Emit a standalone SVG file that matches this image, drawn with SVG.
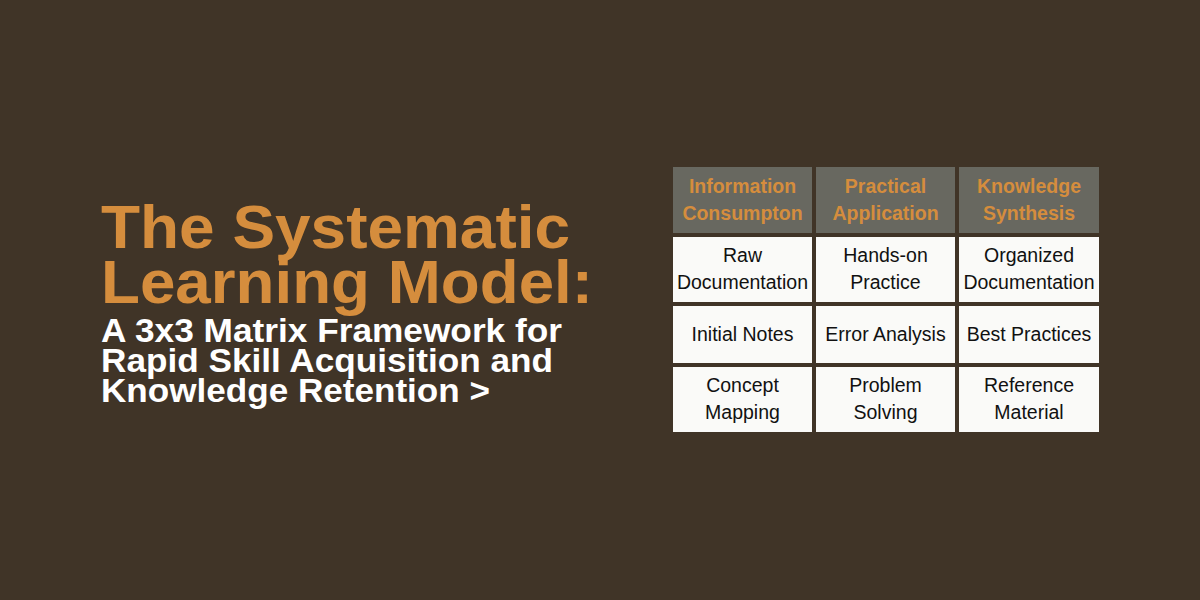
<svg xmlns="http://www.w3.org/2000/svg" width="1200" height="600" viewBox="0 0 1200 600">
<style>
.t{font-family:"Liberation Sans",Arial,sans-serif;font-weight:bold;fill:#D58D3D;font-size:62px}
.s{font-family:"Liberation Sans",Arial,sans-serif;font-weight:bold;fill:#fff;font-size:33px}
.h{fill:#686860}
.c{fill:#FAFAF8}
.ht{font-family:"Liberation Sans",Arial,sans-serif;font-weight:bold;fill:#D58D3D;font-size:19.5px;text-anchor:middle}
.ct{font-family:"Liberation Sans",Arial,sans-serif;fill:#111;font-size:19.5px;text-anchor:middle}
</style>
<rect width="1200" height="600" fill="#403427"/>
<g id="title">
<text class="t" x="101" y="248" textLength="469" lengthAdjust="spacingAndGlyphs">The Systematic</text>
<text class="t" x="101" y="303" textLength="492" lengthAdjust="spacingAndGlyphs">Learning Model:</text>
<text class="s" x="101" y="342" textLength="461" lengthAdjust="spacingAndGlyphs">A 3x3 Matrix Framework for</text>
<text class="s" x="101" y="372" textLength="452" lengthAdjust="spacingAndGlyphs">Rapid Skill Acquisition and</text>
<text class="s" x="101" y="402" textLength="389" lengthAdjust="spacingAndGlyphs">Knowledge Retention &gt;</text>
</g>
<g id="h1"><rect class="h" x="673" y="167" width="139" height="66"/><text class="ht" x="742.5" y="193">Information</text><text class="ht" x="742.5" y="220">Consumpton</text></g>
<g id="h2"><rect class="h" x="816" y="167" width="139" height="66"/><text class="ht" x="885.5" y="193">Practical</text><text class="ht" x="885.5" y="220">Application</text></g>
<g id="h3"><rect class="h" x="959" y="167" width="140" height="66"/><text class="ht" x="1029" y="193">Knowledge</text><text class="ht" x="1029" y="220">Synthesis</text></g>
<g id="r1c1"><rect class="c" x="673" y="237" width="139" height="65"/><text class="ct" x="742.5" y="262">Raw</text><text class="ct" x="742.5" y="289">Documentation</text></g>
<g id="r1c2"><rect class="c" x="816" y="237" width="139" height="65"/><text class="ct" x="885.5" y="262">Hands-on</text><text class="ct" x="885.5" y="289">Practice</text></g>
<g id="r1c3"><rect class="c" x="959" y="237" width="140" height="65"/><text class="ct" x="1029" y="262">Organized</text><text class="ct" x="1029" y="289">Documentation</text></g>
<g id="r2c1"><rect class="c" x="673" y="306" width="139" height="57"/><text class="ct" x="742.5" y="341">Initial Notes</text></g>
<g id="r2c2"><rect class="c" x="816" y="306" width="139" height="57"/><text class="ct" x="885.5" y="341">Error Analysis</text></g>
<g id="r2c3"><rect class="c" x="959" y="306" width="140" height="57"/><text class="ct" x="1029" y="341">Best Practices</text></g>
<g id="r3c1"><rect class="c" x="673" y="367" width="139" height="65"/><text class="ct" x="742.5" y="392">Concept</text><text class="ct" x="742.5" y="419">Mapping</text></g>
<g id="r3c2"><rect class="c" x="816" y="367" width="139" height="65"/><text class="ct" x="885.5" y="392">Problem</text><text class="ct" x="885.5" y="419">Solving</text></g>
<g id="r3c3"><rect class="c" x="959" y="367" width="140" height="65"/><text class="ct" x="1029" y="392">Reference</text><text class="ct" x="1029" y="419">Material</text></g>
<g id="connectors"/>
</svg>
